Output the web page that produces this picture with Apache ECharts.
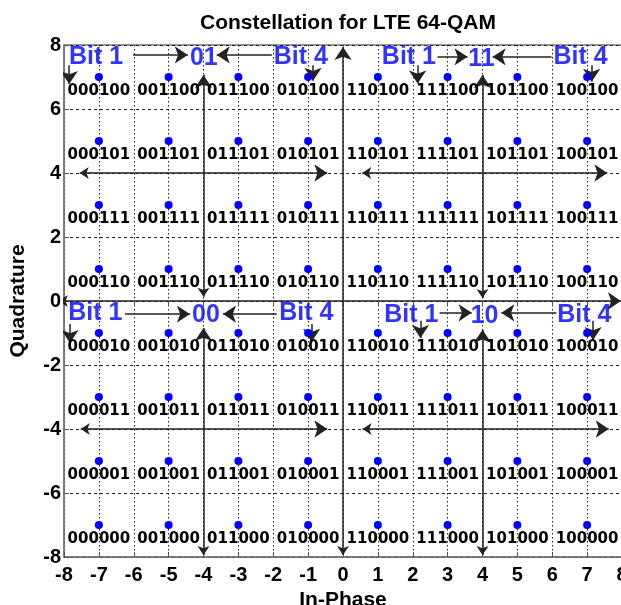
<!DOCTYPE html>
<html><head><meta charset="utf-8">
<script src="https://cdn.jsdelivr.net/npm/echarts@6/dist/echarts.min.js"></script>
<style>html,body{margin:0;padding:0;background:#fff}#c{width:621px;height:605px}</style>
</head><body><div id="c"></div><script>
// In-phase / quadrature positions of the 64-QAM points
const iPositions = [-7, -5, -3, -1, 1, 3, 5, 7];
const qPositions = [7, 5, 3, 1, -1, -3, -5, -7];
// bit labels, one row per quadrature level (top to bottom), columns follow iPositions
const bitRows = [
  ['000100','001100','011100','010100','110100','111100','101100','100100'],
  ['000101','001101','011101','010101','110101','111101','101101','100101'],
  ['000111','001111','011111','010111','110111','111111','101111','100111'],
  ['000110','001110','011110','010110','110110','111110','101110','100110'],
  ['000010','001010','011010','010010','110010','111010','101010','100010'],
  ['000011','001011','011011','010011','110011','111011','101011','100011'],
  ['000001','001001','011001','010001','110001','111001','101001','100001'],
  ['000000','001000','011000','010000','110000','111000','101000','100000']
];
// blue annotation texts and their data positions
const noteText = ['Bit 1','01','Bit 4','Bit 1','11','Bit 4','Bit 1','00','Bit 4','Bit 1','10','Bit 4'];
const noteX = [-7.08, -3.99, -1.21, 1.89, 3.97, 6.81, -7.1, -3.93, -1.05, 1.96, 4.06, 6.92];
const noteY = [7.62, 7.6, 7.62, 7.61, 7.57, 7.61, -0.39, -0.45, -0.39, -0.44, -0.48, -0.44];
// double-headed arrows [x1, y1, x2, y2]
const doubleArrows = [
  [0, -7.94, 0, 7.94],
  [-8.15, 0, 7.97, 0],
  [-4, 0.13, -4, 7.06],
  [-4, -7.94, -4, -0.84],
  [4, 0.09, 4, 7.06],
  [4, -7.94, 4, -0.9],
  [-7.55, 4, -0.45, 4],
  [0.55, 4, 7.58, 4],
  [-7.52, -4, -0.45, -4],
  [0.56, -4, 7.62, -4]
];
// single-headed arrows [xFrom, yFrom, xTo, yTo], head at the "to" end
const singleArrows = [
  [-6.02, 7.69, -4.45, 7.69],
  [-2.04, 7.69, -3.62, 7.69],
  [2.71, 7.63, 3.57, 7.63],
  [5.98, 7.63, 4.29, 7.63],
  [-6.25, -0.41, -4.39, -0.41],
  [-1.9, -0.41, -3.44, -0.41],
  [2.77, -0.37, 3.69, -0.37],
  [6.12, -0.37, 4.54, -0.37],
  [-7.85, 7.37, -7.85, 6.78],
  [-0.86, 7.37, -0.86, 6.88],
  [2.14, 7.37, 2.14, 6.8],
  [7.13, 7.37, 7.13, 6.85],
  [-7.83, -0.72, -7.83, -1.31],
  [-0.9, -0.72, -0.9, -1.27],
  [2.22, -0.62, 2.22, -1.16],
  [7.17, -0.62, 7.17, -1.22]
];

const pointData = [];
qPositions.forEach((q, r) => {
  iPositions.forEach((i, c) => { pointData.push([i, q, bitRows[r][c]]); });
});
const noteData = noteText.map((t, k) => [noteX[k], noteY[k], t]);

const chart = echarts.init(document.getElementById('c'), null, {renderer: 'canvas'});
const axisFont = {fontFamily: 'Liberation Sans, Arial, sans-serif', fontWeight: 'bold', fontSize: 20, color: '#000'};
chart.setOption({
  animation: false,
  backgroundColor: '#fff',
  title: {
    text: 'Constellation for LTE 64-QAM',
    left: 343, top: 8, textAlign: 'center',
    textStyle: {fontFamily: 'Liberation Sans, Arial, sans-serif', fontWeight: 'bold', fontSize: 21, color: '#000'}
  },
  grid: {left: 64, top: 45, width: 558, height: 512, containLabel: false, outerBoundsMode: 'none',
         show: true, borderColor: '#777', borderWidth: 1.5, backgroundColor: '#fff'},
  xAxis: [{
    type: 'value', min: -8, max: 8, interval: 1,
    axisLine: {show: true, onZero: false, lineStyle: {color: '#777', width: 1.5}},
    axisTick: {show: true, inside: true, length: 5, lineStyle: {color: '#555'}},
    axisLabel: Object.assign({margin: 8}, axisFont),
    splitLine: {show: true, lineStyle: {color: '#222', type: [1.5, 2.5], width: 1}},
    name: 'In-Phase', nameLocation: 'middle', nameGap: 33,
    nameTextStyle: {fontFamily: 'Liberation Sans, Arial, sans-serif', fontWeight: 'bold', fontSize: 21, color: '#000'}
  }, {
    type: 'value', min: -8, max: 8, interval: 1, position: 'top',
    axisLine: {show: false}, axisLabel: {show: false}, splitLine: {show: false},
    axisTick: {show: true, inside: true, length: 5, lineStyle: {color: '#555'}}
  }],
  yAxis: [{
    type: 'value', min: -8, max: 8, interval: 2,
    axisLine: {show: true, onZero: false, lineStyle: {color: '#777', width: 1.5}},
    axisTick: {show: true, inside: true, length: 5, lineStyle: {color: '#555'}},
    axisLabel: Object.assign({margin: 3}, axisFont),
    splitLine: {show: true, lineStyle: {color: '#222', type: [3, 3], width: 1}},
    name: 'Quadrature', nameLocation: 'middle', nameGap: 35, nameRotate: 90,
    nameTextStyle: {fontFamily: 'Liberation Sans, Arial, sans-serif', fontWeight: 'bold', fontSize: 21, color: '#000'}
  }],
  series: [{
    type: 'lines', coordinateSystem: 'cartesian2d', z: 3,
    symbol: ['arrow', 'arrow'], symbolSize: [9, 13],
    lineStyle: {color: '#222', width: 1.5, opacity: 1},
    data: doubleArrows.map(a => ({coords: [[a[0], a[1]], [a[2], a[3]]]}))
  }, {
    type: 'lines', coordinateSystem: 'cartesian2d', z: 3,
    symbol: ['none', 'arrow'], symbolSize: [9, 13],
    lineStyle: {color: '#222', width: 1.5, opacity: 1},
    data: singleArrows.map(a => ({coords: [[a[0], a[1]], [a[2], a[3]]]}))
  }, {
    type: 'scatter', z: 4,
    symbolSize: 8,
    itemStyle: {color: '#0000ff', opacity: 1},
    data: pointData,
    label: {
      show: true, position: 'inside', offset: [0, 14.5],
      formatter: p => p.data[2],
      fontFamily: 'DejaVu Sans, sans-serif', fontWeight: 'bold', fontSize: 15,
      color: '#000', textBorderWidth: 0
    }
  }, {
    type: 'scatter', z: 5,
    symbolSize: 1, itemStyle: {color: 'rgba(0,0,0,0)'},
    data: noteData,
    label: {
      show: true, position: 'inside',
      formatter: p => p.data[2],
      fontFamily: 'Liberation Sans, Arial, sans-serif', fontWeight: 'bold', fontSize: 25,
      color: '#0000ff', textBorderWidth: 0
    }
  }]
});
</script></body></html>
